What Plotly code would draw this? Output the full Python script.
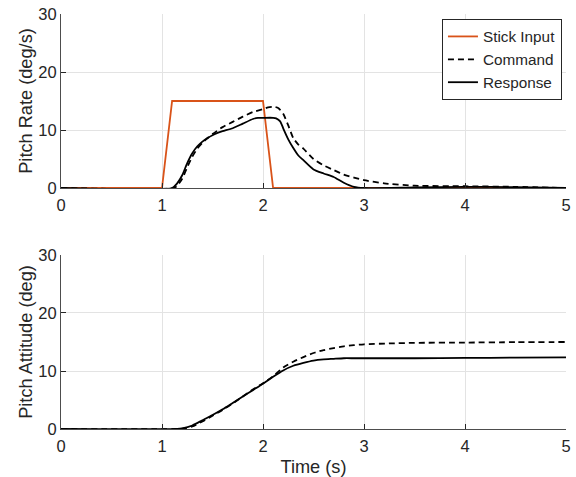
import plotly.graph_objects as go

# ---- data ----
stick_t = [0, 1.0, 1.1, 2.0, 2.1, 5.0]
stick_rate = [0, 0, 15, 15, 0, 0]

resp_rate_t = [0, 1.10, 1.15, 1.20, 1.25, 1.30, 1.35, 1.40, 1.45, 1.50, 1.55, 1.60, 1.70,
               1.80, 1.90, 1.95, 2.00, 2.10, 2.13, 2.17, 2.20, 2.25, 2.30, 2.35, 2.40,
               2.50, 2.60, 2.70, 2.80, 2.90, 3.00, 3.50, 4.00, 4.50, 5.00]
resp_rate = [0, 0, 0.8, 2.2, 4.3, 6.0, 7.2, 8.0, 8.6, 9.1, 9.5, 9.8, 10.3,
             11.1, 11.9, 12.1, 12.1, 12.1, 12.0, 11.5, 10.3, 8.4, 6.9, 5.6, 4.8,
             3.2, 2.5, 1.9, 0.9, 0.2, 0.0, 0.1, 0.2, 0.15, 0.0]

cmd_rate_t = [0, 1.12, 1.15, 1.20, 1.25, 1.30, 1.35, 1.40, 1.45, 1.50, 1.60, 1.70, 1.80,
              1.90, 2.00, 2.05, 2.10, 2.15, 2.20, 2.25, 2.30, 2.35, 2.40, 2.50, 2.60,
              2.70, 2.80, 2.90, 3.00, 3.20, 3.50, 4.00, 4.50, 5.00]
cmd_rate = [0, 0, 0.4, 1.6, 3.6, 5.4, 6.8, 7.8, 8.6, 9.3, 10.5, 11.4, 12.3,
            13.1, 13.6, 13.9, 14.0, 13.8, 12.8, 10.8, 8.6, 7.5, 6.8, 5.0, 3.9,
            3.1, 2.3, 1.8, 1.35, 0.8, 0.4, 0.3, 0.2, 0.0]

att_t = [0, 1.15, 1.20, 1.30, 1.40, 1.50, 1.60, 1.70, 1.80, 1.90, 2.00, 2.10, 2.20,
         2.30, 2.40, 2.50, 2.60, 2.70, 2.80, 2.90, 3.00, 3.25, 3.50, 4.00, 4.50, 5.00]
resp_att = [0, 0, 0.1, 0.6, 1.5, 2.4, 3.4, 4.5, 5.6, 6.7, 7.8, 9.0, 10.1,
            10.9, 11.4, 11.8, 12.0, 12.1, 12.2, 12.2, 12.2, 12.2, 12.2, 12.25, 12.3, 12.35]
cmd_att = [0, 0, 0.05, 0.45, 1.3, 2.3, 3.3, 4.4, 5.6, 6.8, 7.9, 9.1, 10.6,
           11.6, 12.4, 13.1, 13.6, 13.95, 14.25, 14.45, 14.6, 14.75, 14.85, 14.9, 14.97, 15.0]

x_ticks = [0, 1, 2, 3, 4, 5]
y_ticks = [0, 10, 20, 30]

ORANGE = "#D95319"
TXT = "#262626"
FONT = "Liberation Sans, Arial, Helvetica, sans-serif"
TICK_SIZE = 16.5
LABEL_SIZE = 18.2

fig = go.Figure()
fig.add_trace(go.Scatter(x=stick_t, y=stick_rate, mode="lines", name="Stick Input",
                         line=dict(color=ORANGE, width=1.8), xaxis="x", yaxis="y"))
fig.add_trace(go.Scatter(x=cmd_rate_t, y=cmd_rate, mode="lines", name="Command",
                         line=dict(color="black", width=1.8, dash="6px,4px", shape="spline", smoothing=0.6),
                         xaxis="x", yaxis="y"))
fig.add_trace(go.Scatter(x=resp_rate_t, y=resp_rate, mode="lines", name="Response",
                         line=dict(color="black", width=1.8, shape="spline", smoothing=0.6),
                         xaxis="x", yaxis="y"))
fig.add_trace(go.Scatter(x=att_t, y=cmd_att, mode="lines", name="Command", showlegend=False,
                         line=dict(color="black", width=1.8, dash="6px,4px", shape="spline", smoothing=0.6),
                         xaxis="x2", yaxis="y2"))
fig.add_trace(go.Scatter(x=att_t, y=resp_att, mode="lines", name="Response", showlegend=False,
                         line=dict(color="black", width=1.8, shape="spline", smoothing=0.6),
                         xaxis="x2", yaxis="y2"))

common_x = dict(range=[0, 5], tickvals=x_ticks, ticks="inside", ticklen=5, tickcolor=TXT,
                showline=True, linecolor="#4d4d4d", linewidth=1, showgrid=True, gridcolor="#e3e3e3",
                gridwidth=1, zeroline=False, tickfont=dict(size=TICK_SIZE, color=TXT), ticklabelstandoff=2)
common_y = dict(range=[0, 30], tickvals=y_ticks, ticks="inside", ticklen=5, tickcolor=TXT,
                showline=True, linecolor="#4d4d4d", linewidth=1, showgrid=True, gridcolor="#e3e3e3",
                gridwidth=1, zeroline=False, tickfont=dict(size=TICK_SIZE, color=TXT), ticklabelstandoff=0)

fig.update_layout(
    width=576, height=477,
    margin=dict(l=61, r=10, t=14, b=48, autoexpand=False),
    paper_bgcolor="white", plot_bgcolor="white",
    font=dict(family=FONT, size=TICK_SIZE, color=TXT),
    xaxis=dict(**common_x, domain=[0, 1], anchor="y"),
    yaxis=dict(**common_y, domain=[0.5807, 1.0], anchor="x",
               title=dict(text="Pitch Rate (deg/s)", font=dict(size=LABEL_SIZE, color=TXT), standoff=0)),
    xaxis2=dict(**common_x, domain=[0, 1], anchor="y2",
                title=dict(text="Time (s)", font=dict(size=LABEL_SIZE, color=TXT), standoff=6)),
    yaxis2=dict(**common_y, domain=[0, 0.4193], anchor="x2",
                title=dict(text="Pitch Attitude (deg)", font=dict(size=LABEL_SIZE, color=TXT), standoff=0)),
    legend=dict(x=0.992, y=0.988, xanchor="right", yanchor="top",
                bgcolor="white", bordercolor=TXT, borderwidth=1,
                font=dict(size=15.3, color=TXT), itemwidth=30, tracegroupgap=0),
    showlegend=True,
)

fig.write_html("out.html")
